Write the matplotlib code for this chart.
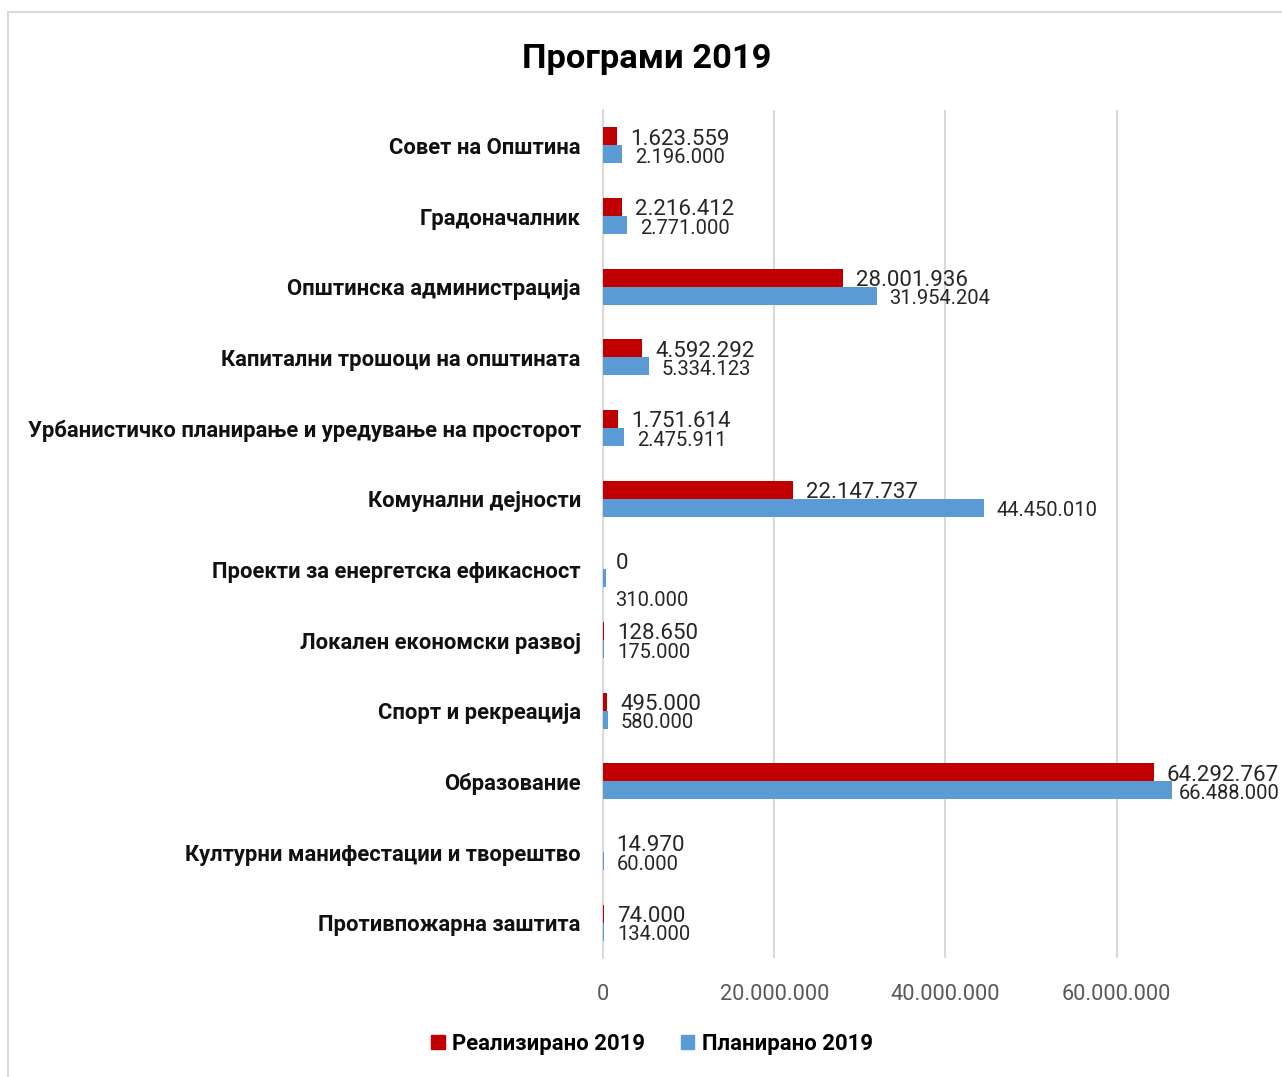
import matplotlib.pyplot as plt
import numpy as np
from matplotlib.patches import Patch, Rectangle

plt.rcParams['font.family'] = ['Roboto', 'DejaVu Sans']

# data
categories = [
    'Совет на Општина',
    'Градоначалник',
    'Општинска администрација',
    'Капитални трошоци на општината',
    'Урбанистичко планирање и уредување на просторот',
    'Комунални дејности',
    'Проекти за енергетска ефикасност',
    'Локален економски развој',
    'Спорт и рекреација',
    'Образование',
    'Културни манифестации и творештво',
    'Противпожарна заштита',
]
realized = [1623559, 2216412, 28001936, 4592292, 1751614, 22147737,
            0, 128650, 495000, 64292767, 14970, 74000]
planned = [2196000, 2771000, 31954204, 5334123, 2475911, 44450010,
           310000, 175000, 580000, 66488000, 60000, 134000]
x_ticks = [0, 20000000, 40000000, 60000000]

RED = '#C00000'
BLUE = '#5B9BD5'
GRID = '#D9D9D9'


def fmt(v):
    return f'{v:,}'.replace(',', '.')


W, H = 1282, 1077
fig = plt.figure(figsize=(W / 100, H / 100), dpi=100)
# plot area in pixels: left 603, right 1288 (past the edge), top 110, bottom 958
ax = fig.add_axes([603 / W, 1 - 958 / H, (1288 - 603) / W, (958 - 110) / H])

y = np.arange(len(categories))
h = 0.255
ax.barh(y - h / 2, realized, height=h, color=RED, zorder=3)
ax.barh(y + h / 2, planned, height=h, color=BLUE, zorder=3)

ax.set_xlim(0, 80000000)
ax.set_ylim(len(categories) - 0.5, -0.5)
ax.set_xticks(x_ticks + [80000000])
ax.set_xticklabels([fmt(v) for v in x_ticks] + [''])
ax.set_yticks(y)
ax.set_yticklabels(categories, fontweight='bold', fontsize=15.8, color='#111111')
ax.tick_params(axis='y', length=0, pad=16)
ax.tick_params(axis='x', length=0, pad=19, labelsize=15.7, labelcolor='#595959')
ax.grid(axis='x', color=GRID, lw=1.5, zorder=0)
for s in ['top', 'right', 'bottom']:
    ax.spines[s].set_visible(False)
ax.spines['left'].set_color(GRID)
ax.spines['left'].set_linewidth(1.5)

pt = 72 / 100  # px -> points
for i, (r, p) in enumerate(zip(realized, planned)):
    ax.annotate(fmt(r), (r, i - h / 2), xytext=(13 * pt, -3 * pt), textcoords='offset points',
                ha='left', va='center', fontsize=16, color='#262626')
    dx, dy = 13, -3
    if i == 6:
        dx, dy = 9, -22
    if i == 9:
        dx = 6
    ax.annotate(fmt(p), (p, i + h / 2), xytext=(dx * pt, dy * pt), textcoords='offset points',
                ha='left', va='center', fontsize=14.5, color='#262626')

fig.text(647 / W, 1 - 59 / H, 'Програми 2019', ha='center', va='center',
         fontsize=24.8, fontweight='bold', color='black')

handles = [Patch(color=RED, label='Реализирано 2019'), Patch(color=BLUE, label='Планирано 2019')]
fig.legend(handles=handles, loc='center', bbox_to_anchor=(652 / W, 1 - 1044 / H), ncol=2,
           frameon=False, handlelength=0.6, handleheight=0.6, handletextpad=0.35,
           columnspacing=1.6, prop={'weight': 'bold', 'size': 15.9})

fig.add_artist(Rectangle((8 / W, -0.1), 1.2, (H - 12) / H + 0.1, transform=fig.transFigure,
                         fill=False, edgecolor=GRID, lw=1.5))

fig.savefig('out.png', dpi=100)
